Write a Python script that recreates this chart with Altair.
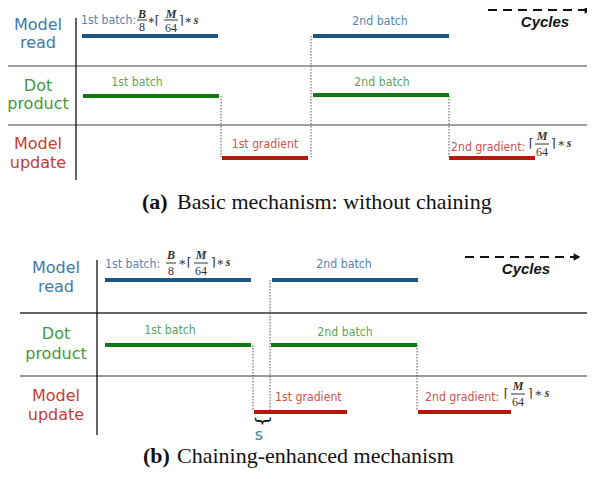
import altair as alt
import pandas as pd

# ---------------- data (image-space units, x: cycles, y: rows) ----------------
# Bars (busy periods) for each unit
bar_panel = ["a", "a", "a", "a", "a", "a", "b", "b", "b", "b", "b", "b"]
bar_row = ["read", "read", "dot", "dot", "update", "update",
           "read", "read", "dot", "dot", "update", "update"]
bar_start = [82, 313, 83, 313, 222, 449, 105, 272, 105, 271, 254, 418]
bar_end = [218, 449, 219, 449, 308, 535, 251, 418, 251, 417, 347, 511]
bar_y = [36, 36, 96, 95, 158, 158, 280, 280, 345, 345, 412, 412]

row_names = ["read", "dot", "update"]
bar_colors = ["#1b5687", "#0f7a12", "#b31a0c"]
text_colors = ["#3f79ab", "#3f993f", "#c63c36"]
ann_colors = ["#5583ad", "#5aa65a", "#d0524b"]

# Dotted dependency lines
dep_x = [311, 221, 449, 270, 253, 417]
dep_y1 = [36, 96, 96, 280, 345, 345]
dep_y2 = [157, 157, 157, 411, 411, 411]

# Row separators
sep_x1 = [5, 5, 20, 20]
sep_x2 = [595, 595, 595, 595]
sep_y = [66, 125, 313, 376]
sep_color = ["#808080", "#808080", "#333333", "#777777"]

# Vertical axes
ax_x = [76, 97]
ax_y1 = [18, 260]
ax_y2 = [180, 435]

# Row labels
lab_text = ["Model", "read", "Dot", "product", "Model", "update",
            "Model", "read", "Dot", "product", "Model", "update"]
lab_row = ["read", "read", "dot", "dot", "update", "update",
           "read", "read", "dot", "dot", "update", "update"]
lab_x = [38, 38, 38, 38, 38, 38, 56, 56, 56, 56, 56, 56]
lab_y = [25, 43, 86, 104, 144, 163, 268, 287, 334, 354, 396, 415]

# Bar annotations
ann_text = ["1st batch:", "2nd batch", "1st batch", "2nd batch", "1st gradient", "2nd gradient:",
            "1st batch:", "2nd batch", "1st batch", "2nd batch", "1st gradient", "2nd gradient:"]
ann_row = ["read", "read", "dot", "dot", "update", "update",
           "read", "read", "dot", "dot", "update", "update"]
ann_align = ["left", "center", "center", "center", "center", "left",
             "left", "center", "center", "center", "left", "left"]
ann_x = [81, 380, 137, 382, 265, 451, 105, 344, 170, 345, 275, 425]
ann_y = [20, 21, 82, 82, 144, 147, 264, 264, 330, 332, 397, 397]

# Formula pieces
f_text = ["B", "8", "∗", "⌈", "M", "64", "⌉", "∗", "s",
          "⌈", "M", "64", "⌉", "∗", "s",
          "B", "8", "∗", "⌈", "M", "64", "⌉", "∗", "s",
          "⌈", "M", "64", "⌉", "∗", "s"]
f_italic = [1, 0, 0, 0, 1, 0, 0, 0, 1,
            0, 1, 0, 0, 0, 1,
            1, 0, 0, 0, 1, 0, 0, 0, 1,
            0, 1, 0, 0, 0, 1]
f_x = [142, 142, 151, 157, 171, 171, 181, 188, 196,
       531, 542, 542, 553, 561, 569,
       171, 171, 182, 189, 201, 201, 213, 220, 228,
       506, 518, 518, 530, 538, 547]
f_y = [14, 27, 20, 20, 14, 28, 20, 20, 20,
       143, 136, 152, 143, 143, 143,
       255, 271, 262, 262, 255, 271, 262, 262, 262,
       393, 386, 402, 393, 393, 393]
fb_x1 = [137, 164, 535, 166, 194, 511]
fb_x2 = [147, 178, 549, 176, 208, 525]
fb_y = [20, 20, 144, 263, 263, 394]

# Cycles arrows
cyc_x1 = [488, 465]
cyc_x2 = [588, 577]
cyc_y = [10, 257]
cyc_label_x = [545, 526]
cyc_label_y = [22, 269]

# Sub-captions
cap_bold = ["(a)", "(b)"]
cap_rest = ["Basic mechanism: without chaining", "Chaining-enhanced mechanism"]
cap_x = [142, 143]
cap_y = [202, 456]
cap_rest_x = [177, 177]

# Chaining slack "s"
brace_x = [262]
brace_y = [421]
s_x = [259]
s_y = [435]

# ---------------- build ----------------
X = alt.Scale(domain=[8, 587])
Y = alt.Scale(domain=[8, 471], reverse=True)
bc = dict(zip(row_names, bar_colors))
tc = dict(zip(row_names, text_colors))
ac = dict(zip(row_names, ann_colors))

bars = pd.DataFrame({"x1": bar_start, "x2": bar_end, "y": bar_y,
                     "c": [bc[r] for r in bar_row]})
deps = pd.DataFrame({"x": dep_x, "y1": dep_y1, "y2": dep_y2})
seps = pd.DataFrame({"x1": sep_x1, "x2": sep_x2, "y": sep_y, "c": sep_color})
axes = pd.DataFrame({"x": ax_x, "y1": ax_y1, "y2": ax_y2})
labs = pd.DataFrame({"t": lab_text, "x": lab_x, "y": lab_y, "c": [tc[r] for r in lab_row]})
anns = pd.DataFrame({"t": ann_text, "x": ann_x, "y": ann_y, "a": ann_align,
                     "c": [ac[r] for r in ann_row]})
forms = pd.DataFrame({"t": f_text, "x": f_x, "y": f_y, "i": f_italic})
fbars = pd.DataFrame({"x1": fb_x1, "x2": fb_x2, "y": fb_y})
cyc = pd.DataFrame({"x1": cyc_x1, "x2": cyc_x2, "y": cyc_y,
                    "lx": cyc_label_x, "ly": cyc_label_y, "t": ["Cycles", "Cycles"]})
caps = pd.DataFrame({"b": cap_bold, "r": cap_rest, "x": cap_x, "rx": cap_rest_x, "y": cap_y})

def xq(f):
    return alt.X(f, type="quantitative", scale=X, axis=None)

def yq(f):
    return alt.Y(f, type="quantitative", scale=Y, axis=None)

layers = []

layers.append(alt.Chart(seps).mark_rule(strokeWidth=1.5).encode(
    x=xq("x1"), x2="x2", y=yq("y"), color=alt.Color("c:N", scale=None)))
layers.append(alt.Chart(axes).mark_rule(strokeWidth=1.3, color="#111111").encode(
    x=xq("x"), y=yq("y1"), y2="y2"))
layers.append(alt.Chart(deps).mark_rule(strokeWidth=1, color="#555555", strokeDash=[1.5, 1.5]).encode(
    x=xq("x"), y=yq("y1"), y2="y2"))
layers.append(alt.Chart(bars).mark_rule(strokeWidth=4).encode(
    x=xq("x1"), x2="x2", y=yq("y"), color=alt.Color("c:N", scale=None)))

layers.append(alt.Chart(labs).mark_text(font="DejaVu Sans", fontSize=16, align="center",
                                        baseline="middle").encode(
    x=xq("x"), y=yq("y"), text="t:N", color=alt.Color("c:N", scale=None)))

cond = "DejaVu Sans Condensed, Liberation Sans Narrow, sans-serif"
for al in ["left", "center"]:
    layers.append(alt.Chart(anns[anns.a == al]).mark_text(
        font=cond, fontSize=12.2, align=al, baseline="middle").encode(
        x=xq("x"), y=yq("y"), text="t:N", color=alt.Color("c:N", scale=None)))

serif = "Liberation Serif, DejaVu Serif, serif"
layers.append(alt.Chart(forms[forms.i == 1]).mark_text(
    font=serif, fontSize=12, fontStyle="italic", fontWeight="bold", align="center",
    baseline="middle", color="#333333").encode(x=xq("x"), y=yq("y"), text="t:N"))
layers.append(alt.Chart(forms[forms.i == 0]).mark_text(
    font=serif, fontSize=12, align="center", baseline="middle", color="#333333").encode(
    x=xq("x"), y=yq("y"), text="t:N"))
layers.append(alt.Chart(fbars).mark_rule(strokeWidth=1, color="#333333").encode(
    x=xq("x1"), x2="x2", y=yq("y")))

layers.append(alt.Chart(cyc).mark_rule(strokeWidth=2, color="#111111", strokeDash=[9, 6]).encode(
    x=xq("x1"), x2="x2", y=yq("y")))
layers.append(alt.Chart(cyc).mark_point(shape="triangle-right", filled=True, size=60,
                                        color="#111111", opacity=1).encode(
    x=xq("x2"), y=yq("y")))
layers.append(alt.Chart(cyc).mark_text(font="Liberation Sans, Arial, sans-serif", fontSize=15,
                                       fontStyle="italic", fontWeight="bold", align="center",
                                       baseline="middle", color="#111111").encode(
    x=xq("lx"), y=yq("ly"), text="t:N"))

layers.append(alt.Chart(caps).mark_text(font=serif, fontSize=22, fontWeight="bold", align="left",
                                        baseline="middle", color="#111111").encode(
    x=xq("x"), y=yq("y"), text="b:N"))
layers.append(alt.Chart(caps).mark_text(font=serif, fontSize=22, align="left",
                                        baseline="middle", color="#111111").encode(
    x=xq("rx"), y=yq("y"), text="r:N"))

brace = pd.DataFrame({"x": brace_x, "y": brace_y, "t": ["}"]})
sdf = pd.DataFrame({"x": s_x, "y": s_y, "t": ["s"]})
layers.append(alt.Chart(brace).mark_text(font="DejaVu Sans", fontSize=18, angle=90,
                                         align="center", baseline="middle", color="#111111").encode(
    x=xq("x"), y=yq("y"), text="t:N"))
layers.append(alt.Chart(sdf).mark_text(font="DejaVu Sans", fontSize=16, align="center",
                                       baseline="middle", color="#2a8c8c").encode(
    x=xq("x"), y=yq("y"), text="t:N"))

chart = alt.layer(*layers).properties(
    width=579, height=463, padding=0, autosize=alt.AutoSizeParams(type="none")
).configure_view(stroke=None)

chart.save("out.html", embed_options={"renderer": "svg", "actions": False})
